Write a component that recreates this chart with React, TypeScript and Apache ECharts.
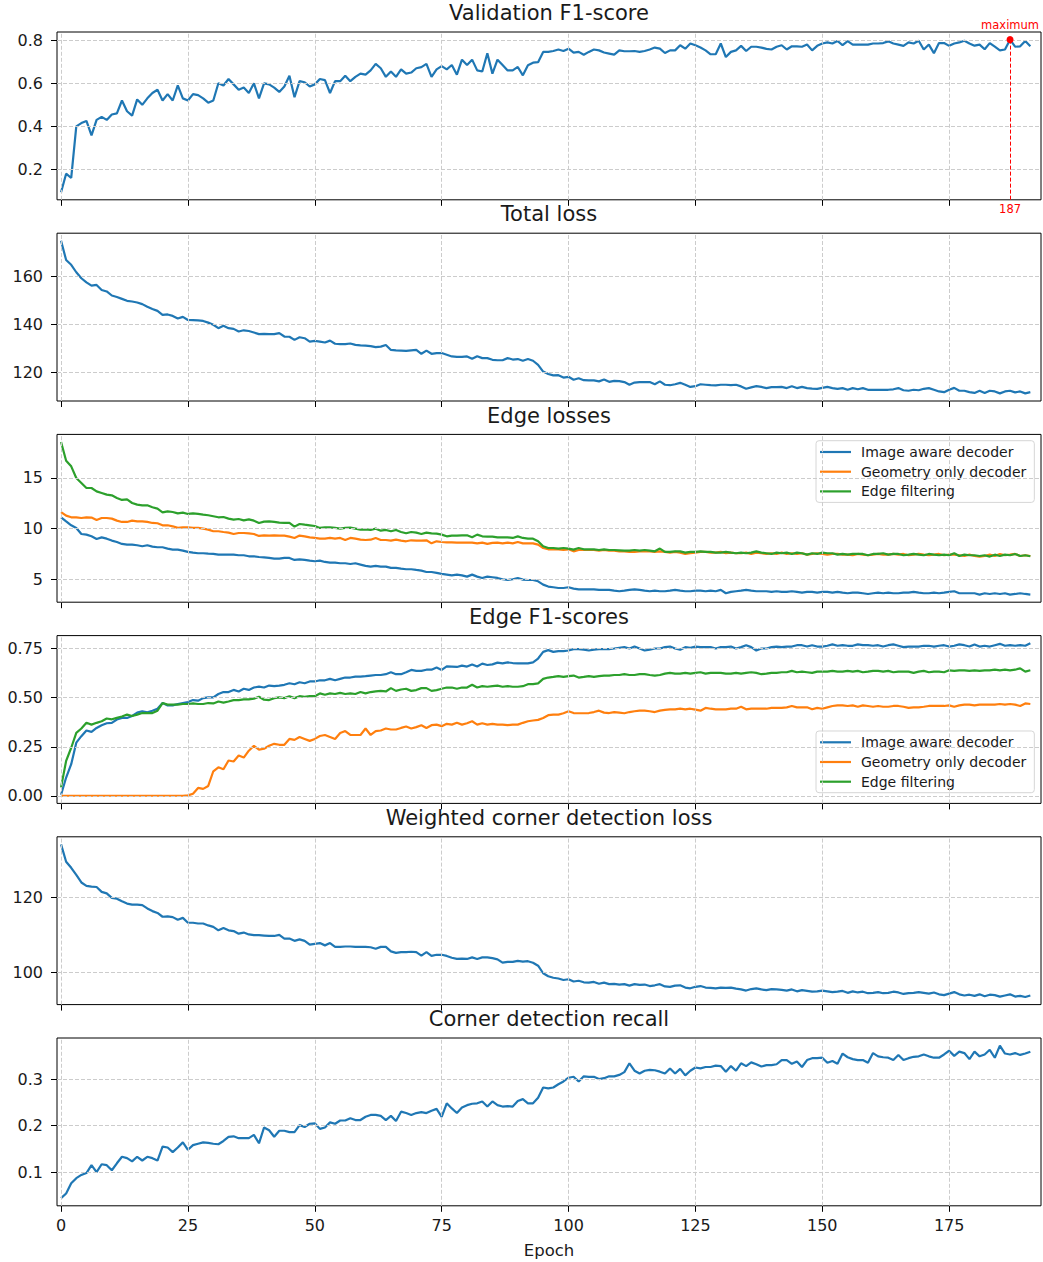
import React, { useEffect, useRef } from "react";
import * as echarts from "echarts";

// ---------------- data ----------------
const EPOCHS: number[] = [...Array(192).keys()];
const X_TICKS = [0, 25, 50, 75, 100, 125, 150, 175];

const VAL_F1 = [
  0.094, 0.18, 0.16, 0.40, 0.415, 0.425, 0.358, 0.43, 0.444, 0.43,
  0.455, 0.46, 0.52, 0.47, 0.45, 0.525, 0.50, 0.53, 0.555, 0.57,
  0.52, 0.55, 0.52, 0.59, 0.53, 0.52, 0.55, 0.545, 0.53, 0.51,
  0.52, 0.60, 0.59, 0.62, 0.595, 0.57, 0.58, 0.555, 0.60, 0.53,
  0.60, 0.595, 0.58, 0.56, 0.585, 0.635, 0.535, 0.61, 0.605, 0.585,
  0.595, 0.62, 0.615, 0.555, 0.61, 0.61, 0.635, 0.61, 0.63, 0.645,
  0.64, 0.66, 0.69, 0.67, 0.63, 0.655, 0.63, 0.665, 0.645, 0.65,
  0.67, 0.675, 0.69, 0.63, 0.665, 0.68, 0.665, 0.685, 0.64, 0.71,
  0.685, 0.71, 0.66, 0.655, 0.74, 0.645, 0.71, 0.685, 0.66, 0.66,
  0.676, 0.637, 0.684, 0.696, 0.698, 0.746, 0.746, 0.75, 0.757, 0.75,
  0.761, 0.743, 0.746, 0.733, 0.746, 0.757, 0.753, 0.743, 0.738, 0.733,
  0.753, 0.749, 0.749, 0.75, 0.746, 0.75, 0.757, 0.766, 0.761, 0.741,
  0.753, 0.753, 0.777, 0.761, 0.785, 0.777, 0.766, 0.753, 0.735, 0.735,
  0.785, 0.722, 0.746, 0.753, 0.774, 0.75, 0.77, 0.77, 0.766, 0.76,
  0.757, 0.77, 0.777, 0.757, 0.772, 0.772, 0.77, 0.78, 0.753, 0.774,
  0.785, 0.79, 0.785, 0.797, 0.777, 0.796, 0.78, 0.78, 0.78, 0.78,
  0.785, 0.785, 0.787, 0.795, 0.785, 0.78, 0.774, 0.79, 0.785, 0.798,
  0.757, 0.78, 0.74, 0.787, 0.787, 0.774, 0.785, 0.79, 0.798, 0.785,
  0.775, 0.78, 0.758, 0.787, 0.77, 0.753, 0.757, 0.803, 0.77, 0.772,
  0.797, 0.772,
];

const TOTAL_LOSS = [
  174.9, 166.9, 164.9, 161.8, 159.3, 157.6, 156.2, 156.5, 154.4, 153.8,
  152.1, 151.5, 150.7, 149.9, 149.6, 149.2, 148.5, 147.4, 146.5, 145.7,
  144.0, 144.2, 143.6, 142.5, 143.2, 141.9, 141.8, 141.7, 141.5, 140.8,
  139.9, 138.5, 139.5, 138.5, 138.2, 137.1, 137.6, 137.3, 136.7, 136.0,
  136.1, 136.0, 136.0, 136.4, 135.0, 134.9, 133.6, 134.7, 134.3, 132.9,
  133.2, 132.9, 132.5, 133.3, 132.0, 131.8, 131.8, 132.1, 131.5, 131.3,
  131.2, 131.0, 130.6, 130.8, 131.5, 129.4, 129.2, 129.1, 129.0, 129.2,
  129.4, 127.8, 129.1, 127.8, 128.1, 128.1, 127.4, 126.7, 126.5, 126.5,
  126.7, 125.7, 126.8, 126.0, 126.0, 125.3, 125.1, 125.1, 126.0, 125.4,
  125.6, 124.9, 125.6, 124.9, 123.2, 120.4, 119.4, 118.8, 118.9, 117.9,
  118.2, 117.0, 117.6, 116.8, 116.7, 116.7, 116.3, 117.1, 116.1, 116.5,
  116.4, 116.0, 114.9, 115.8, 116.0, 116.0, 116.0, 115.1, 116.3, 114.9,
  114.7, 115.1, 115.7, 114.9, 114.0, 114.3, 115.1, 114.9, 114.7, 114.6,
  114.9, 114.9, 114.7, 114.9, 114.2, 113.2, 113.8, 114.3, 114.0, 113.5,
  113.9, 113.9, 114.0, 113.5, 114.3, 113.5, 114.0, 113.5, 113.3, 113.2,
  113.6, 114.0, 113.5, 113.2, 113.5, 112.8, 113.5, 113.0, 113.5, 112.8,
  112.8, 112.8, 112.8, 112.8, 113.0, 113.5, 112.6, 112.4, 112.8, 112.6,
  113.2, 113.5, 112.8, 112.1, 111.8, 112.8, 113.6, 112.4, 112.4, 111.8,
  111.5, 112.4, 111.5, 112.4, 112.1, 111.3, 112.1, 112.4, 111.7, 112.1,
  111.3, 111.8,
];

const EDGE_LOSS_IMAGE = [
  11.12, 10.72, 10.33, 10.07, 9.47, 9.41, 9.24, 8.98, 9.14, 9.01,
  8.82, 8.68, 8.49, 8.42, 8.42, 8.36, 8.26, 8.36, 8.22, 8.16,
  8.16, 8.03, 7.93, 7.93, 7.83, 7.70, 7.63, 7.57, 7.57, 7.53,
  7.50, 7.43, 7.43, 7.43, 7.43, 7.37, 7.37, 7.27, 7.27, 7.20,
  7.17, 7.11, 7.04, 7.04, 7.11, 7.11, 6.91, 6.97, 6.91, 6.84,
  6.78, 6.84, 6.71, 6.64, 6.64, 6.58, 6.58, 6.51, 6.58, 6.45,
  6.32, 6.25, 6.32, 6.25, 6.25, 6.12, 6.12, 6.05, 5.99, 5.99,
  5.92, 5.86, 5.72, 5.72, 5.63, 5.53, 5.46, 5.39, 5.46, 5.39,
  5.26, 5.46, 5.26, 5.13, 5.26, 5.20, 5.13, 5.00, 4.93, 5.00,
  5.13, 4.97, 4.93, 4.93, 4.80, 4.47, 4.28, 4.21, 4.14, 4.14,
  4.21, 4.08, 4.01, 4.01, 4.01, 4.01, 3.95, 3.95, 3.95, 3.88,
  3.82, 3.88, 3.95, 4.01, 3.95, 3.88, 3.82, 3.88, 3.82, 3.82,
  3.88, 3.95, 3.88, 3.82, 3.82, 3.88, 3.88, 3.82, 3.88, 3.82,
  3.95, 3.62, 3.75, 3.82, 3.88, 3.95, 3.88, 3.82, 3.82, 3.82,
  3.75, 3.82, 3.75, 3.75, 3.82, 3.75, 3.68, 3.75, 3.75, 3.68,
  3.75, 3.75, 3.68, 3.75, 3.68, 3.62, 3.68, 3.68, 3.62, 3.55,
  3.62, 3.68, 3.62, 3.68, 3.62, 3.62, 3.68, 3.68, 3.75, 3.68,
  3.62, 3.62, 3.68, 3.62, 3.68, 3.75, 3.82, 3.62, 3.62, 3.62,
  3.62, 3.49, 3.62, 3.55, 3.62, 3.55, 3.62, 3.49, 3.55, 3.62,
  3.55, 3.49,
];

const EDGE_LOSS_GEOMETRY = [
  11.64, 11.28, 11.12, 11.12, 11.05, 11.12, 11.09, 10.86, 11.05, 11.05,
  10.99, 10.79, 10.66, 10.66, 10.79, 10.72, 10.72, 10.66, 10.56, 10.53,
  10.33, 10.33, 10.23, 10.07, 10.13, 10.13, 10.07, 10.07, 10.00, 9.90,
  9.74, 9.74, 9.67, 9.61, 9.47, 9.57, 9.57, 9.54, 9.47, 9.28,
  9.34, 9.31, 9.34, 9.31, 9.31, 9.21, 9.08, 9.31, 9.24, 9.14,
  9.08, 9.01, 9.01, 9.08, 9.01, 9.08, 8.88, 9.08, 9.01, 8.91,
  8.88, 8.91, 9.08, 8.88, 8.88, 8.82, 8.91, 8.82, 8.75, 8.85,
  8.82, 8.82, 8.85, 8.55, 8.75, 8.68, 8.65, 8.65, 8.62, 8.62,
  8.62, 8.62, 8.55, 8.62, 8.49, 8.59, 8.62, 8.55, 8.62, 8.55,
  8.68, 8.55, 8.55, 8.55, 8.42, 8.09, 7.96, 7.96, 7.96, 7.89,
  7.96, 7.76, 7.89, 7.89, 7.89, 7.89, 7.83, 7.89, 7.83, 7.83,
  7.76, 7.76, 7.70, 7.70, 7.76, 7.76, 7.76, 7.70, 7.76, 7.70,
  7.63, 7.70, 7.63, 7.50, 7.57, 7.63, 7.70, 7.70, 7.63, 7.63,
  7.70, 7.57, 7.63, 7.57, 7.57, 7.63, 7.50, 7.63, 7.57, 7.50,
  7.57, 7.50, 7.63, 7.50, 7.57, 7.50, 7.57, 7.43, 7.50, 7.57,
  7.50, 7.43, 7.50, 7.50, 7.43, 7.43, 7.37, 7.50, 7.43, 7.37,
  7.43, 7.50, 7.43, 7.43, 7.50, 7.43, 7.50, 7.37, 7.43, 7.50,
  7.43, 7.37, 7.43, 7.50, 7.37, 7.43, 7.43, 7.37, 7.30, 7.43,
  7.30, 7.24, 7.30, 7.43, 7.30, 7.50, 7.37, 7.43, 7.50, 7.30,
  7.37, 7.30,
];

const EDGE_LOSS_FILTER = [
  18.55, 16.71, 16.15, 15.00, 14.51, 14.01, 14.01, 13.68, 13.52, 13.36,
  13.29, 13.03, 12.83, 12.89, 12.53, 12.37, 12.30, 12.30, 12.11, 11.97,
  11.61, 11.71, 11.64, 11.51, 11.58, 11.45, 11.51, 11.45, 11.38, 11.32,
  11.22, 11.12, 11.15, 10.99, 10.89, 10.95, 10.82, 10.92, 10.79, 10.56,
  10.69, 10.72, 10.66, 10.59, 10.56, 10.56, 10.20, 10.46, 10.39, 10.33,
  10.26, 10.07, 10.13, 10.13, 10.07, 10.00, 10.07, 10.10, 10.00, 9.90,
  9.93, 9.87, 10.00, 9.80, 9.87, 9.74, 9.87, 9.67, 9.54, 9.67,
  9.61, 9.47, 9.61, 9.54, 9.51, 9.41, 9.24, 9.31, 9.31, 9.34,
  9.34, 9.14, 9.41, 9.24, 9.21, 9.21, 9.14, 9.14, 9.14, 9.08,
  9.24, 9.08, 9.01, 9.01, 8.75, 8.26, 8.09, 8.09, 8.03, 8.09,
  8.03, 7.93, 8.09, 7.96, 7.96, 7.96, 7.89, 7.96, 7.89, 7.89,
  7.86, 7.83, 7.83, 7.89, 7.83, 7.89, 7.83, 7.76, 8.03, 7.70,
  7.70, 7.76, 7.76, 7.63, 7.70, 7.70, 7.76, 7.70, 7.70, 7.63,
  7.63, 7.70, 7.63, 7.57, 7.63, 7.57, 7.63, 7.76, 7.63, 7.57,
  7.50, 7.63, 7.57, 7.63, 7.50, 7.63, 7.57, 7.43, 7.57, 7.50,
  7.63, 7.57, 7.57, 7.43, 7.50, 7.43, 7.50, 7.50, 7.50, 7.37,
  7.50, 7.50, 7.57, 7.43, 7.50, 7.50, 7.37, 7.43, 7.50, 7.43,
  7.37, 7.50, 7.43, 7.37, 7.43, 7.37, 7.57, 7.30, 7.43, 7.37,
  7.37, 7.30, 7.37, 7.24, 7.43, 7.30, 7.43, 7.37, 7.50, 7.30,
  7.37, 7.27,
];

const EDGE_F1_IMAGE = [
  0.005, 0.093, 0.161, 0.271, 0.304, 0.333, 0.326, 0.346, 0.360, 0.370,
  0.372, 0.389, 0.397, 0.397, 0.407, 0.424, 0.431, 0.426, 0.434, 0.444,
  0.473, 0.461, 0.461, 0.468, 0.473, 0.478, 0.488, 0.485, 0.498, 0.502,
  0.502, 0.519, 0.529, 0.529, 0.540, 0.532, 0.546, 0.540, 0.552, 0.557,
  0.552, 0.562, 0.559, 0.562, 0.566, 0.574, 0.569, 0.579, 0.574, 0.583,
  0.583, 0.589, 0.589, 0.596, 0.589, 0.596, 0.603, 0.603, 0.608, 0.608,
  0.610, 0.613, 0.616, 0.616, 0.620, 0.630, 0.620, 0.620, 0.630, 0.642,
  0.637, 0.637, 0.643, 0.643, 0.654, 0.642, 0.660, 0.659, 0.657, 0.664,
  0.659, 0.670, 0.659, 0.674, 0.667, 0.670, 0.679, 0.675, 0.680, 0.677,
  0.675, 0.675, 0.675, 0.680, 0.700, 0.734, 0.743, 0.734, 0.738, 0.738,
  0.741, 0.748, 0.748, 0.745, 0.741, 0.745, 0.748, 0.748, 0.748, 0.751,
  0.755, 0.758, 0.751, 0.761, 0.751, 0.741, 0.745, 0.751, 0.751, 0.758,
  0.761, 0.751, 0.745, 0.758, 0.755, 0.761, 0.758, 0.758, 0.758, 0.751,
  0.758, 0.758, 0.761, 0.751, 0.758, 0.768, 0.758, 0.741, 0.751, 0.751,
  0.758, 0.761, 0.758, 0.761, 0.761, 0.768, 0.768, 0.761, 0.768, 0.761,
  0.761, 0.765, 0.772, 0.765, 0.768, 0.765, 0.765, 0.772, 0.768, 0.768,
  0.765, 0.768, 0.761, 0.768, 0.772, 0.765, 0.758, 0.761, 0.761, 0.761,
  0.765, 0.765, 0.761, 0.765, 0.768, 0.761, 0.765, 0.772, 0.768, 0.761,
  0.772, 0.761, 0.765, 0.761, 0.768, 0.775, 0.765, 0.768, 0.765, 0.768,
  0.765, 0.778,
];

const EDGE_F1_GEOMETRY = [
  0, 0, 0, 0, 0, 0, 0, 0, 0, 0,
  0, 0, 0, 0, 0, 0, 0, 0, 0, 0,
  0, 0, 0, 0, 0, 0.002, 0.01, 0.04, 0.035, 0.05,
  0.125, 0.145, 0.135, 0.18, 0.175, 0.205, 0.195, 0.23, 0.255, 0.235,
  0.24, 0.255, 0.265, 0.26, 0.26, 0.29, 0.285, 0.30, 0.29, 0.28,
  0.29, 0.305, 0.31, 0.30, 0.29, 0.32, 0.33, 0.31, 0.31, 0.31,
  0.343, 0.31, 0.33, 0.333, 0.343, 0.338, 0.338, 0.346, 0.353, 0.343,
  0.35, 0.36, 0.346, 0.36, 0.363, 0.355, 0.367, 0.363, 0.372, 0.363,
  0.37, 0.38, 0.363, 0.37, 0.363, 0.367, 0.363, 0.363, 0.36, 0.363,
  0.363, 0.372, 0.380, 0.384, 0.387, 0.397, 0.411, 0.414, 0.414, 0.421,
  0.431, 0.422, 0.421, 0.421, 0.422, 0.427, 0.434, 0.424, 0.422, 0.427,
  0.424, 0.421, 0.427, 0.431, 0.434, 0.434, 0.431, 0.427, 0.434, 0.438,
  0.441, 0.441, 0.444, 0.441, 0.444, 0.439, 0.434, 0.448, 0.444, 0.441,
  0.441, 0.441, 0.444, 0.444, 0.454, 0.441, 0.444, 0.444, 0.444, 0.444,
  0.448, 0.448, 0.448, 0.451, 0.458, 0.451, 0.451, 0.451, 0.441, 0.448,
  0.444, 0.451, 0.458, 0.461, 0.461, 0.458, 0.461, 0.454, 0.461, 0.458,
  0.454, 0.458, 0.454, 0.454, 0.458, 0.458, 0.454, 0.448, 0.451, 0.451,
  0.454, 0.458, 0.458, 0.458, 0.458, 0.461, 0.454, 0.461, 0.465, 0.465,
  0.461, 0.465, 0.465, 0.465, 0.465, 0.468, 0.465, 0.468, 0.465, 0.458,
  0.471, 0.468,
];

const EDGE_F1_FILTER = [
  0.043, 0.178, 0.245, 0.321, 0.343, 0.372, 0.363, 0.372, 0.380, 0.394,
  0.390, 0.397, 0.404, 0.414, 0.407, 0.414, 0.422, 0.422, 0.422, 0.434,
  0.473, 0.465, 0.465, 0.465, 0.468, 0.468, 0.471, 0.468, 0.468, 0.473,
  0.471, 0.481, 0.475, 0.481, 0.488, 0.488, 0.492, 0.492, 0.495, 0.505,
  0.490, 0.488, 0.498, 0.502, 0.498, 0.508, 0.498, 0.508, 0.505, 0.508,
  0.508, 0.522, 0.515, 0.522, 0.519, 0.525, 0.519, 0.522, 0.519, 0.529,
  0.522, 0.529, 0.532, 0.535, 0.532, 0.549, 0.535, 0.542, 0.546, 0.535,
  0.539, 0.549, 0.549, 0.535, 0.539, 0.546, 0.552, 0.552, 0.546, 0.552,
  0.552, 0.566, 0.552, 0.559, 0.556, 0.559, 0.562, 0.556, 0.559, 0.556,
  0.556, 0.559, 0.569, 0.569, 0.573, 0.596, 0.603, 0.606, 0.610, 0.606,
  0.610, 0.613, 0.603, 0.606, 0.610, 0.606, 0.610, 0.613, 0.613, 0.616,
  0.616, 0.620, 0.616, 0.616, 0.620, 0.620, 0.616, 0.613, 0.616, 0.623,
  0.627, 0.623, 0.623, 0.627, 0.623, 0.627, 0.630, 0.623, 0.627, 0.627,
  0.627, 0.623, 0.623, 0.627, 0.623, 0.627, 0.630, 0.627, 0.620, 0.623,
  0.627, 0.627, 0.630, 0.630, 0.637, 0.630, 0.633, 0.630, 0.627, 0.633,
  0.633, 0.633, 0.637, 0.633, 0.633, 0.637, 0.633, 0.637, 0.630, 0.633,
  0.637, 0.637, 0.633, 0.637, 0.630, 0.633, 0.633, 0.633, 0.627, 0.633,
  0.637, 0.630, 0.633, 0.633, 0.630, 0.640, 0.637, 0.640, 0.640, 0.637,
  0.640, 0.637, 0.640, 0.640, 0.643, 0.640, 0.643, 0.640, 0.643, 0.650,
  0.633, 0.640,
];

const CORNER_LOSS = [
  134.0, 129.4, 127.8, 125.9, 123.9, 123.0, 122.8, 122.7, 121.4, 121.0,
  119.8, 119.6, 118.9, 118.3, 118.0, 118.0, 117.9, 117.0, 116.3, 115.8,
  114.8, 114.9, 114.7, 114.0, 114.5, 113.2, 113.2, 113.0, 113.0, 112.5,
  112.1, 111.2, 111.8, 111.2, 111.0, 110.3, 110.6, 110.1, 109.9, 109.9,
  109.8, 109.7, 109.7, 110.0, 109.0, 109.0, 108.4, 108.8, 108.4, 107.4,
  107.6, 107.8, 107.2, 107.8, 106.8, 106.8, 106.9, 106.9, 106.8, 106.8,
  106.8, 106.7, 106.3, 106.8, 106.8, 105.6, 105.2, 105.4, 105.4, 105.5,
  105.4, 104.5, 105.4, 104.4, 104.7, 104.7, 104.4, 103.9, 103.6, 103.7,
  103.6, 104.0, 103.6, 104.0, 104.0, 103.8, 103.5, 102.6, 102.8, 102.8,
  103.1, 102.9, 103.0, 102.6, 101.8, 99.8, 99.0, 98.6, 98.4, 98.0,
  98.2, 97.6, 97.8, 97.4, 97.3, 97.5, 97.0, 97.3, 96.9, 97.0,
  96.8, 96.9, 96.5, 96.9, 96.7, 96.8, 96.4, 96.6, 96.9, 96.3,
  96.2, 96.5, 96.6, 96.0, 95.8, 96.2, 96.4, 96.0, 95.9, 95.8,
  96.0, 95.9, 96.0, 95.7, 95.5, 95.2, 95.6, 95.8, 95.5, 95.3,
  95.6, 95.5, 95.4, 95.2, 95.5, 95.0, 95.3, 95.1, 94.9, 95.0,
  95.2, 95.0, 94.8, 94.9, 95.1, 94.6, 95.0, 94.7, 94.9, 94.5,
  94.6, 94.8, 94.5, 94.6, 94.9, 94.7, 94.3, 94.5, 94.6, 94.8,
  94.6, 94.4, 94.7, 94.2, 94.0, 94.4, 94.8, 94.2, 93.9, 94.1,
  93.8, 94.2, 93.7, 94.1, 94.0, 93.6, 93.9, 94.2, 93.6, 93.8,
  93.5, 93.9,
];

const CORNER_RECALL = [
  0.044, 0.054, 0.076, 0.087, 0.094, 0.098, 0.115, 0.10, 0.117, 0.115,
  0.104, 0.119, 0.133, 0.13, 0.123, 0.133, 0.125, 0.133, 0.13, 0.125,
  0.155, 0.153, 0.143, 0.153, 0.164, 0.148, 0.158, 0.161, 0.164, 0.163,
  0.161, 0.16, 0.167, 0.176, 0.177, 0.173, 0.173, 0.173, 0.18, 0.162,
  0.196, 0.19, 0.176, 0.189, 0.189, 0.186, 0.186, 0.201, 0.197, 0.204,
  0.205, 0.193, 0.196, 0.207, 0.204, 0.211, 0.211, 0.216, 0.212, 0.212,
  0.219, 0.223, 0.223, 0.221, 0.212, 0.221, 0.21, 0.23, 0.227, 0.223,
  0.227, 0.229, 0.227, 0.232, 0.236, 0.219, 0.248, 0.237, 0.227, 0.239,
  0.244, 0.247, 0.248, 0.252, 0.241, 0.252, 0.244, 0.241, 0.242, 0.241,
  0.253, 0.257, 0.248, 0.248, 0.260, 0.282, 0.280, 0.282, 0.289, 0.295,
  0.303, 0.305, 0.295, 0.306, 0.305, 0.305, 0.300, 0.302, 0.306, 0.306,
  0.309, 0.315, 0.334, 0.318, 0.312, 0.318, 0.320, 0.319, 0.316, 0.312,
  0.323, 0.312, 0.322, 0.308, 0.318, 0.325, 0.323, 0.326, 0.326, 0.329,
  0.328, 0.316, 0.328, 0.318, 0.334, 0.328, 0.336, 0.332, 0.327, 0.330,
  0.330, 0.332, 0.341, 0.341, 0.333, 0.338, 0.326, 0.341, 0.345, 0.345,
  0.346, 0.335, 0.339, 0.333, 0.355, 0.347, 0.343, 0.341, 0.341, 0.335,
  0.356, 0.349, 0.347, 0.346, 0.341, 0.352, 0.341, 0.345, 0.348, 0.349,
  0.353, 0.349, 0.346, 0.346, 0.353, 0.361, 0.350, 0.359, 0.356, 0.343,
  0.359, 0.349, 0.353, 0.363, 0.346, 0.372, 0.355, 0.353, 0.356, 0.352,
  0.355, 0.359,
];

const TITLES = [
  "Validation F1-score",
  "Total loss",
  "Edge losses",
  "Edge F1-scores",
  "Weighted corner detection loss",
  "Corner detection recall",
];
const DECODER_NAMES = ["Image aware decoder", "Geometry only decoder", "Edge filtering"];
const Y_TICKS = [
  [0.2, 0.4, 0.6, 0.8],
  [120, 140, 160],
  [5, 10, 15],
  [0, 0.25, 0.5, 0.75],
  [100, 120],
  [0.1, 0.2, 0.3],
];
const Y_DECIMALS = [1, 0, 0, 2, 0, 1];
const X_LABEL = "Epoch";
const MAX_LABEL = "maximum";

// ---------------- style ----------------
const BLUE = "#1f77b4";
const ORANGE = "#ff7f0e";
const GREEN = "#2ca02c";
const FONT = "DejaVu Sans";
const TEXT = "#1a1a1a";
const GRID_LEFT = 57;
const GRID_W = 984;
const GRID_TOP0 = 32;
const GRID_STEP = 201.2;
const GRID_H = 167.8;
const X_MIN = -0.8;
const X_MAX = 193.1;
const LEGEND_LINE_ICON = "path://M0,0H31V2.2H0Z";

function buildOption() {
  const panels = [
    [{ name: TITLES[0], data: VAL_F1, color: BLUE }],
    [{ name: TITLES[1], data: TOTAL_LOSS, color: BLUE }],
    [
      { name: DECODER_NAMES[0], data: EDGE_LOSS_IMAGE, color: BLUE },
      { name: DECODER_NAMES[1], data: EDGE_LOSS_GEOMETRY, color: ORANGE },
      { name: DECODER_NAMES[2], data: EDGE_LOSS_FILTER, color: GREEN },
    ],
    [
      { name: DECODER_NAMES[0], data: EDGE_F1_IMAGE, color: BLUE },
      { name: DECODER_NAMES[1], data: EDGE_F1_GEOMETRY, color: ORANGE },
      { name: DECODER_NAMES[2], data: EDGE_F1_FILTER, color: GREEN },
    ],
    [{ name: TITLES[4], data: CORNER_LOSS, color: BLUE }],
    [{ name: TITLES[5], data: CORNER_RECALL, color: BLUE }],
  ];

  const grid: any[] = [];
  const xAxis: any[] = [];
  const yAxis: any[] = [];
  const series: any[] = [];
  const title: any[] = [];
  const yLimits: number[][] = [];

  panels.forEach((ps, i) => {
    const top = GRID_TOP0 + i * GRID_STEP;
    grid.push({
      left: GRID_LEFT, top, width: GRID_W, height: GRID_H,
      show: true, borderColor: "#000", borderWidth: 1, backgroundColor: "transparent",
    });
    const all = ps.flatMap((s) => s.data);
    const mn = Math.min(...all);
    const mx = Math.max(...all);
    const r = mx - mn;
    const yMin = mn - 0.05 * r;
    const yMax = mx + 0.05 * r;
    yLimits.push([yMin, yMax]);

    title.push({
      text: TITLES[i],
      left: GRID_LEFT + GRID_W / 2,
      top: top - 30.8,
      textAlign: "center",
      padding: 0,
      textStyle: { fontSize: 21, fontWeight: "normal", color: TEXT, fontFamily: FONT, lineHeight: 24 },
    });

    xAxis.push({
      type: "value", gridIndex: i, min: X_MIN, max: X_MAX,
      axisLine: { show: false, onZero: false },
      splitLine: { show: false },
      axisTick: { show: true, customValues: X_TICKS, length: 6, lineStyle: { color: "#000", width: 1 } },
      axisLabel: {
        show: i === panels.length - 1, customValues: X_TICKS, margin: 12,
        fontSize: 16, color: TEXT, fontFamily: FONT,
      },
      name: i === panels.length - 1 ? X_LABEL : "",
      nameLocation: "middle",
      nameGap: 36,
      nameTextStyle: { fontSize: 16.5, color: TEXT, fontFamily: FONT },
    });
    yAxis.push({
      type: "value", gridIndex: i, min: yMin, max: yMax,
      axisLine: { show: false, onZero: false },
      splitLine: { show: false },
      axisTick: { show: true, customValues: Y_TICKS[i], length: 6, lineStyle: { color: "#000", width: 1 } },
      axisLabel: {
        customValues: Y_TICKS[i], margin: 14, fontSize: 16, color: TEXT, fontFamily: FONT,
        formatter: (v: number) => v.toFixed(Y_DECIMALS[i]),
      },
    });

    // dashed grid lines (below the data)
    series.push({
      type: "line", xAxisIndex: i, yAxisIndex: i, data: [], silent: true, z: 1,
      markLine: {
        silent: true, symbol: ["none", "none"], animation: false,
        label: { show: false },
        lineStyle: { color: "#cccccc", type: [4, 2], width: 1 },
        emphasis: { disabled: true },
        data: [
          ...X_TICKS.map((v) => ({ xAxis: v })),
          ...Y_TICKS[i].map((v) => ({ yAxis: v })),
        ],
      },
    });

    ps.forEach((s) => {
      series.push({
        type: "line", name: s.name, xAxisIndex: i, yAxisIndex: i, z: 3,
        data: EPOCHS.map((e, k) => [e, s.data[k]]),
        showSymbol: false, symbol: "none",
        lineStyle: { color: s.color, width: 2.2 },
        itemStyle: { color: s.color },
        emphasis: { disabled: true },
      });
    });
  });

  // maximum annotation on the first panel
  let best = 0;
  VAL_F1.forEach((v, k) => { if (v > VAL_F1[best]) best = k; });
  const y0 = yLimits[0][0];
  series.push({
    type: "line", xAxisIndex: 0, yAxisIndex: 0, data: [], silent: true, z: 5,
    markLine: {
      silent: true, symbol: ["none", "none"], animation: false,
      label: { show: false },
      lineStyle: { color: "#ff0000", type: [4, 2], width: 1 },
      emphasis: { disabled: true },
      data: [[{ coord: [EPOCHS[best], VAL_F1[best]] }, { coord: [EPOCHS[best], y0] }]],
    },
    markPoint: {
      silent: true, animation: false,
      data: [
        {
          coord: [EPOCHS[best], VAL_F1[best]], symbol: "circle", symbolSize: 7,
          itemStyle: { color: "#ff0000" },
          label: { show: true, position: "top", formatter: MAX_LABEL, color: "#ff0000", fontSize: 11.5, fontFamily: FONT, distance: 5 },
        },
        {
          coord: [EPOCHS[best], y0], symbol: "circle", symbolSize: 1,
          itemStyle: { color: "rgba(0,0,0,0)" },
          label: { show: true, position: "bottom", formatter: String(EPOCHS[best]), color: "#ff0000", fontSize: 11.5, fontFamily: FONT, distance: 3 },
        },
      ],
    },
  });

  const legendBase = {
    orient: "vertical",
    left: 816,
    itemWidth: 31,
    itemHeight: 14,
    itemGap: 5.7,
    icon: LEGEND_LINE_ICON,
    padding: [4.3, 8, 4, 4],
    backgroundColor: "rgba(255,255,255,0.8)",
    borderColor: "#d6d6d6",
    borderWidth: 1,
    borderRadius: 3,
    selectedMode: false,
    data: DECODER_NAMES,
    textStyle: { fontSize: 14, color: TEXT, fontFamily: FONT, padding: [0, 0, 0, 5] },
  };

  return {
    animation: false,
    backgroundColor: "#ffffff",
    textStyle: { fontFamily: FONT },
    title,
    legend: [
      { ...legendBase, top: 440.7 },
      { ...legendBase, top: 731 },
    ],
    grid,
    xAxis,
    yAxis,
    series,
  };
}

export default function App() {
  const ref = useRef<HTMLDivElement>(null);
  useEffect(() => {
    if (!ref.current) return;
    const chart = echarts.init(ref.current, null, { renderer: "svg" });
    chart.setOption(buildOption() as any);
    return () => chart.dispose();
  }, []);
  return (
    <div
      ref={ref}
      style={{ position: "absolute", left: 0, top: 0, width: 1043, height: 1262, background: "#fff" }}
    />
  );
}
